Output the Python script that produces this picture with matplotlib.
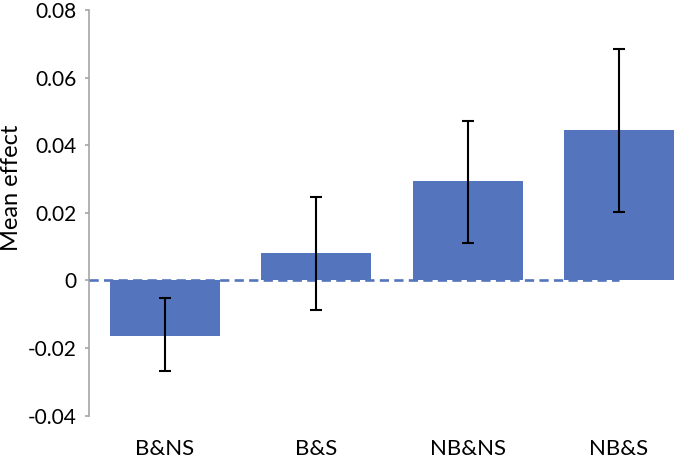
import numpy as np
import matplotlib
matplotlib.use("Agg")
import matplotlib.pyplot as plt

plt.rcParams['font.family'] = ['Lato', 'DejaVu Sans']

groups = ["B&NS", "B&S", "NB&NS", "NB&S"]
means = [-0.0163, 0.0081, 0.0294, 0.0445]
err_low = [-0.0269, -0.0087, 0.0110, 0.0202]
err_high = [-0.0052, 0.0246, 0.0473, 0.0685]
yticks = [-0.04, -0.02, 0, 0.02, 0.04, 0.06, 0.08]
ytick_labels = ["-0.04", "-0.02", "0", "0.02", "0.04", "0.06", "0.08"]

bar_color = '#5475BD'

x = np.arange(len(groups))
means_a = np.array(means)
yerr = [means_a - np.array(err_low), np.array(err_high) - means_a]

fig = plt.figure(figsize=(6.75, 4.63), dpi=100)
ax = fig.add_axes([0.1319, 0.1022, 0.8681, 0.876])

ax.bar(x, means, width=0.726, color=bar_color, zorder=2)
# dashed zero line across the categories
ax.hlines(0, -0.5, 3.0, colors=bar_color, linestyles=(0, (3.5, 2)), linewidth=1.9, zorder=3)
ax.errorbar(x, means, yerr=yerr, fmt='none', ecolor='black', elinewidth=1.5,
            capsize=4.5, capthick=1.5, zorder=4)

ax.set_xlim(-0.5, 3.37)
ax.set_ylim(-0.04, 0.08)
ax.set_yticks(yticks)
ax.set_yticklabels(ytick_labels)
ax.set_xticks(x)
ax.set_xticklabels(groups)

for side in ['top', 'right', 'bottom']:
    ax.spines[side].set_visible(False)
ax.spines['left'].set_color('#A6A6A6')
ax.spines['left'].set_linewidth(1.2)
ax.tick_params(axis='y', length=3, width=1.2, color='#A6A6A6', labelsize=15, pad=6)
ax.tick_params(axis='x', length=0, labelsize=16, pad=17)

ax.set_ylabel("Mean effect", fontsize=17)
ax.yaxis.set_label_coords(-0.114, 0.562)

fig.savefig("out.png", dpi=100)
